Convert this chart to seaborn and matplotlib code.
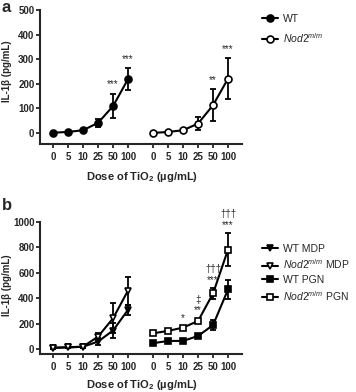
import matplotlib
matplotlib.use('Agg')
import matplotlib.pyplot as plt
import seaborn as sns
import pandas as pd

doses = ['0', '5', '10', '25', '50', '100']
group_offset = 6.67

# panel a
wt_a = [1, 4, 11, 41, 109, 219]
wt_a_err = [3, 3, 5, 17, 50, 45]
nod_a = [0, 4, 11, 38, 113, 221]
nod_a_err = [2, 3, 5, 25, 64, 83]
stars_a = {'wt': ['', '', '', '', '***', '***'], 'nod': ['', '', '', '', '**', '***']}

# panel b
wt_mdp = [8, 12, 17, 58, 145, 308]
wt_mdp_err = [5, 5, 8, 25, 62, 42]
nod_mdp = [10, 13, 18, 97, 241, 460]
nod_mdp_err = [5, 5, 8, 25, 118, 110]
wt_pgn = [45, 63, 63, 102, 188, 469]
wt_pgn_err = [8, 8, 8, 15, 40, 75]
nod_pgn = [123, 142, 168, 220, 437, 783]
nod_pgn_err = [10, 10, 12, 18, 40, 130]
stars_b = ['', '', '*', '**', '***', '***']
daggers_b = ['', '', '', '\u2021', '\u2020\u2020\u2020', '\u2020\u2020\u2020']

sns.set_style('ticks')
plt.rcParams['font.family'] = ['Liberation Sans', 'DejaVu Sans']
plt.rcParams['mathtext.fontset'] = 'custom'
plt.rcParams['mathtext.it'] = 'Liberation Sans:italic'
plt.rcParams['mathtext.rm'] = 'Liberation Sans'
plt.rcParams['mathtext.bf'] = 'Liberation Sans:bold'

fig = plt.figure(figsize=(3.56, 3.92), dpi=100)
W, H = 356, 392


def px_axes(left, top, right, bottom):
    return fig.add_axes([left / W, 1 - bottom / H, (right - left) / W, (bottom - top) / H])


def series(ax, vals, errs, offset, marker, filled, label, ms=5):
    df = pd.DataFrame({'pos': [i + offset for i in range(len(vals))], 'val': vals, 'err': errs})
    ax.errorbar(df['pos'], df['val'], yerr=df['err'], fmt='none', ecolor='k',
                elinewidth=1.3, capsize=2.5, capthick=1.3, zorder=2)
    sns.lineplot(data=df, x='pos', y='val', ax=ax, color='k', lw=1.5,
                 marker=marker, markersize=ms, markeredgecolor='k', markeredgewidth=1.2,
                 markerfacecolor='k' if filled else 'white', label=label, zorder=3)
    return df


def style_axes(ax, ymin, ymax, yticks):
    ax.set_xlim(-0.87, 12.6)
    ax.set_ylim(ymin, ymax)
    ax.set_yticks(yticks)
    ax.set_xticks([i for i in range(6)] + [i + group_offset for i in range(6)])
    ax.set_xticklabels(doses + doses, fontsize=7, fontweight='bold')
    ax.tick_params(axis='y', labelsize=7, width=1.3, length=3, pad=1)
    ax.tick_params(axis='x', width=1.3, length=3, pad=3)
    for lab in ax.get_yticklabels():
        lab.set_fontweight('bold')
    for s in ['left', 'bottom']:
        ax.spines[s].set_linewidth(1.5)
    sns.despine(ax=ax)
    ax.set_xlabel('')
    ax.set_ylabel('IL-1\u03b2 (pg/mL)', fontsize=7, fontweight='bold')
    # centre the label on the data range, as in the reference
    mid = (0 + ymax) / 2
    ax.yaxis.set_label_coords(-0.139, (mid - ymin) / (ymax - ymin))


nod_label = r'$\mathit{Nod2}^{\mathit{m/m}}$'

# ---- panel a
ax1 = px_axes(40, 10, 242, 144)
series(ax1, wt_a, wt_a_err, 0, 'o', True, 'WT')
series(ax1, nod_a, nod_a_err, group_offset, 'o', False, nod_label)
style_axes(ax1, -45, 500, range(0, 501, 100))
for i in range(6):
    if stars_a['wt'][i]:
        ax1.text(i, wt_a[i] + wt_a_err[i] + 18, stars_a['wt'][i], ha='center', va='bottom', fontsize=7)
    if stars_a['nod'][i]:
        ax1.text(i + group_offset, nod_a[i] + nod_a_err[i] + 18, stars_a['nod'][i],
                 ha='center', va='bottom', fontsize=7)
ax1.legend(loc='upper left', bbox_to_anchor=(262 / W, 1 - 14 / H), bbox_transform=fig.transFigure,
           frameon=False, fontsize=7.5, handlelength=1.5, handletextpad=0.5, labelspacing=0.65,
           borderpad=0, borderaxespad=0)

# ---- panel b
ax2 = px_axes(40, 222, 242, 354)
series(ax2, wt_mdp, wt_mdp_err, 0, 'v', True, 'WT MDP')
series(ax2, nod_mdp, nod_mdp_err, 0, 'v', False, nod_label + ' MDP')
series(ax2, wt_pgn, wt_pgn_err, group_offset, 's', True, 'WT PGN')
series(ax2, nod_pgn, nod_pgn_err, group_offset, 's', False, nod_label + ' PGN')
style_axes(ax2, -40, 1000, range(0, 1001, 200))
for i in range(6):
    top = nod_pgn[i] + nod_pgn_err[i] + 25
    if stars_b[i]:
        ax2.text(i + group_offset, top, stars_b[i], ha='center', va='bottom', fontsize=7, clip_on=False)
        top += 85
    if daggers_b[i]:
        ax2.text(i + group_offset, top, daggers_b[i], ha='center', va='bottom', fontsize=7, clip_on=False)
ax2.legend(loc='upper left', bbox_to_anchor=(262 / W, 1 - 244 / H), bbox_transform=fig.transFigure,
           frameon=False, fontsize=7.5, handlelength=1.5, handletextpad=0.5, labelspacing=0.35,
           borderpad=0, borderaxespad=0)

# x labels and panel letters
xlabel = 'Dose of TiO$_\\mathbf{2}$ (\u00b5g/mL)'
for y in [177, 385]:
    fig.text(142 / W, 1 - y / H, xlabel, ha='center', va='center', fontsize=8, fontweight='bold')
fig.text(2 / W, 1 - 8 / H, 'a', fontsize=12, fontweight='bold', va='center')
fig.text(2 / W, 1 - 205 / H, 'b', fontsize=12, fontweight='bold', va='center')

fig.savefig('out.png', dpi=100)
